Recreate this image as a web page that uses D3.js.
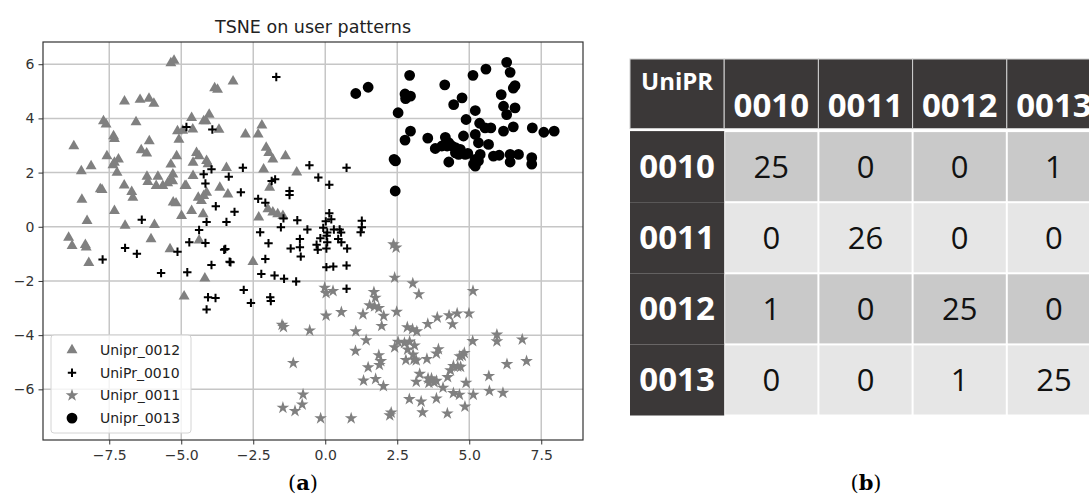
<!DOCTYPE html>
<html>
<head>
<meta charset="utf-8">
<script src="https://cdn.jsdelivr.net/npm/d3@7"></script>
<style>
body { margin: 0; background: #fff; }
</style>
</head>
<body>
<div id="chart"></div>
<script>
// ---- scatter data (t-SNE coordinates) ----
var unipr0012 = [
    [-5.36,6.04],[-5.25,6.13],[-3.84,5.12],[-3.74,5.06],[-3.20,5.37],
    [-6.97,4.63],[-6.43,4.69],[-6.12,4.73],[-5.95,4.55],
    [-7.70,3.90],[-7.61,3.78],[-6.57,3.86],[-7.35,3.35],[-7.32,3.25],[-8.73,2.98],[-6.11,3.16],
    [-6.39,2.83],[-6.20,2.71],[-7.58,2.61],[-7.32,2.37],[-7.18,2.49],[-7.37,2.28],[-7.23,2.00],
    [-8.13,2.24],[-8.47,2.06],[-8.45,1.00],[-8.27,0.22],[-7.81,1.39],[-7.75,1.36],[-7.32,0.59],
    [-6.98,1.53],[-6.72,1.29],[-6.68,1.08],[-6.95,0.04],[-5.93,0.07],
    [-6.19,1.85],[-5.81,1.85],[-6.16,1.66],[-5.87,1.51],[-5.64,1.51],[-5.47,1.61],[-5.35,1.76],[-5.29,1.94],[-4.83,1.51],
    [-5.28,0.90],[-5.18,0.87],[-5.30,1.69],[-5.36,2.30],[-5.16,2.61],
    [-5.13,3.53],[-5.08,3.22],[-4.95,3.55],
    [-4.64,4.02],[-4.03,4.14],[-4.22,3.90],[-3.69,3.59],[-2.77,3.41],[-4.60,3.60],[-4.14,3.90],
    [-2.20,3.74],[-2.33,3.41],
    [-2.05,2.92],[-1.96,2.73],[-1.82,2.49],[-1.38,2.61],[-0.99,2.01],[-2.14,2.12],[-1.93,1.45],
    [-1.99,0.65],[-1.82,0.53],[-1.65,0.47],[-1.47,0.40],[-2.31,0.35],
    [-4.47,2.73],[-4.38,2.61],[-4.59,2.37],[-4.12,2.43],[-4.07,2.31],[-4.59,1.88],[-4.87,1.51],
    [-4.41,1.08],[-4.30,0.96],[-4.22,1.14],[-4.12,1.26],[-3.66,1.45],[-3.38,1.20],[-3.43,2.18],
    [-4.64,0.59],[-4.99,0.40],[-4.24,0.47],
    [-8.91,-0.40],[-8.79,-0.70],[-8.33,-0.67],[-8.30,-0.76],[-8.21,-1.33],
    [-6.05,-0.45],[-5.39,-0.82],[-4.38,-0.50],[-4.18,-1.90],[-4.90,-2.57],[-2.51,-1.29]
];

var unipr0010 = [
    [-1.70,5.53],[-4.82,3.68],[-3.92,3.59],
    [-4.22,1.94],[-4.16,1.60],[-3.95,2.12],
    [-2.86,2.18],[-3.35,1.85],[-2.93,1.27],[-3.15,0.55],[-3.43,0.18],[-3.80,0.76],[-4.12,0.18],
    [-1.86,1.69],[-1.74,1.75],[-1.24,1.32],[-1.24,1.17],
    [-0.55,2.27],[-0.24,1.82],[0.14,1.55],[0.74,2.18],
    [-2.33,1.03],[-2.08,0.89],
    [-1.45,0.31],[-0.97,0.24],[-0.62,-0.10],[-1.54,-0.02],[-2.26,-0.20],
    [0.14,0.50],[0.21,0.28],[0.02,0.20],[-0.07,-0.04],[0.07,-0.21],[0.30,-0.10],[0.50,-0.10],[0.55,-0.21],
    [1.27,0.22],[1.27,-0.02],[1.23,-0.20],
    [-0.88,-0.45],[-0.17,-0.42],[0.07,-0.57],[0.45,-0.45],[0.56,-0.57],[0.04,-0.80],[0.76,-0.80],[-1.20,-0.80],[-0.30,-0.66],[-0.26,-0.85],
    [-1.97,-0.61],[-3.47,-0.82],[-3.29,-1.31],[-2.08,-1.19],
    [-0.88,-0.76],[-0.85,-1.10],
    [0.04,-1.49],[0.28,-1.47],[0.74,-1.43],
    [-2.22,-1.74],[-1.76,-1.80],[-1.43,-1.92],[-1.01,-2.02],
    [-2.83,-2.33],[-2.58,-2.81],[-1.91,-2.60],[-1.89,-2.74],[0.74,-2.29],[0.05,-0.33],
    [-7.73,-1.21],[-6.95,-0.78],[-6.54,-1.00],[-5.70,-1.71],[-5.13,-0.92],[-4.79,-1.68],[-4.72,-0.57],[-4.16,-0.60],[-3.95,-1.41],
    [-4.07,-2.60],[-3.81,-2.63],[-4.12,-3.05],[-3.51,-0.85],[-3.32,-1.29],
    [-6.37,0.26],[-4.38,-0.12]
];

var unipr0011 = [
    [2.37,-0.65],[2.46,-0.77],[2.41,-1.88],[3.04,-2.09],[3.25,-2.49],[5.13,-2.37],
    [-0.02,-2.25],[0.03,-2.45],[0.27,-2.37],
    [1.69,-2.41],[1.74,-2.62],[1.54,-2.90],[1.71,-2.94],[1.86,-3.00],[2.03,-3.29],[1.96,-3.66],
    [1.31,-3.23],[0.56,-3.15],[0.03,-3.28],[2.48,-3.14],
    [-0.54,-3.83],[1.06,-3.86],[1.42,-4.19],[1.05,-4.58],
    [-1.50,-3.62],[-1.45,-3.70],
    [2.85,-3.71],[3.03,-3.78],[3.18,-3.86],
    [3.56,-3.59],[3.89,-3.35],[4.30,-3.27],[4.42,-3.60],[4.58,-3.20],[4.99,-3.20],
    [5.12,-4.22],[5.96,-3.98],[5.96,-4.23],[6.84,-4.16],[6.99,-4.96],[6.31,-5.07],[5.68,-5.51],[5.70,-6.06],[6.17,-6.13],[5.14,-6.20],[4.89,-5.76],[4.85,-6.64],
    [4.45,-6.14],[4.66,-6.20],[4.24,-6.89],[3.86,-6.34],[3.33,-6.45],[3.38,-6.85],[2.92,-6.36],[2.29,-6.86],[2.24,-6.96],
    [0.90,-7.07],[-0.16,-7.07],
    [-0.77,-6.19],[-0.80,-6.56],[-1.05,-6.80],[-1.47,-6.68],[-1.11,-5.03],
    [1.49,-5.19],[1.33,-5.68],[1.75,-5.62],[2.02,-5.88],
    [1.86,-4.74],[1.93,-4.96],[1.88,-5.10],
    [2.41,-4.45],[2.53,-4.25],[2.75,-4.29],[2.93,-4.24],[3.10,-4.38],[2.86,-4.53],[3.05,-4.72],[3.08,-4.90],[2.80,-4.92],[3.16,-4.93],
    [3.53,-4.88],[3.86,-4.68],[3.93,-4.52],
    [3.28,-5.43],[3.16,-5.72],[3.57,-5.60],[3.69,-5.60],[3.86,-5.69],[3.60,-5.76],[3.78,-5.74],[4.09,-5.94],
    [4.25,-5.55],[4.35,-5.30],[4.45,-5.14],[4.60,-5.16],[4.70,-5.17],[4.76,-4.76],[4.83,-4.66],[4.67,-4.78]
];

var unipr0013 = [
    [1.06,4.92],[1.49,5.15],
    [2.93,5.59],[2.77,4.90],[2.96,4.82],[2.79,4.73],[2.53,4.21],[2.96,3.53],[2.77,3.20],[2.39,2.49],[2.44,2.43],[2.43,1.32],
    [4.15,5.24],[4.75,4.76],[4.46,4.51],[5.13,5.59],[5.58,5.82],[6.30,6.07],[6.42,5.70],
    [6.59,5.21],[6.53,5.12],[6.11,4.88],[6.59,4.39],[6.19,4.45],[6.30,4.14],
    [5.21,4.29],[4.89,3.96],[5.36,3.82],[5.55,3.65],[5.75,3.65],[6.19,3.53],[6.53,3.69],[7.19,3.65],[7.59,3.49],[7.95,3.53],
    [3.56,3.27],[4.17,3.30],[4.29,3.10],[3.82,2.89],[4.05,2.98],[4.23,2.98],[4.40,2.98],[4.52,2.92],[4.69,2.86],[4.63,2.67],[4.52,2.73],[4.95,2.71],[4.86,2.67],[4.80,3.35],[5.21,3.41],[5.32,3.10],[5.67,3.04],
    [4.29,2.39],[5.21,2.49],[5.38,2.67],[5.32,2.43],[5.15,2.31],[5.21,2.24],[5.84,2.61],[6.04,2.64],
    [6.42,2.39],[6.42,2.67],[6.71,2.67],[7.17,2.55],[7.17,2.31]
];

var seriesNames = ["Unipr_0012", "UniPr_0010", "Unipr_0011", "Unipr_0013"];
var xTicks = [-7.5, -5.0, -2.5, 0.0, 2.5, 5.0, 7.5];
var yTicks = [-6, -4, -2, 0, 2, 4, 6];

// ---- confusion matrix data ----
var classCodes = ["0010", "0011", "0012", "0013"];
var confusion = [
    [25, 0, 0, 1],
    [0, 26, 0, 0],
    [1, 0, 25, 0],
    [0, 0, 1, 25]
];

var W = 1089, H = 497;
var svg = d3.select("#chart").append("svg")
    .attr("width", W)
    .attr("height", H)
    .style("font-family", "'DejaVu Sans', sans-serif");
svg.append("rect").attr("width", W).attr("height", H).attr("fill", "#fff");

// ================= (a) scatter =================
var plot = {left: 43, right: 583, top: 42, bottom: 440};
var x = d3.scaleLinear().domain([-9.8, 8.95]).range([plot.left, plot.right]);
var y = d3.scaleLinear().domain([-7.87, 6.82]).range([plot.bottom, plot.top]);

var gridColor = "#c6c6c6";
svg.append("g").selectAll("line").data(xTicks).enter().append("line")
    .attr("x1", d => x(d)).attr("x2", d => x(d))
    .attr("y1", plot.top).attr("y2", plot.bottom)
    .attr("stroke", gridColor).attr("stroke-width", 1.5);
svg.append("g").selectAll("line").data(yTicks).enter().append("line")
    .attr("y1", d => y(d)).attr("y2", d => y(d))
    .attr("x1", plot.left).attr("x2", plot.right)
    .attr("stroke", gridColor).attr("stroke-width", 1.5);

var xAxis = svg.append("g")
    .attr("transform", "translate(0," + plot.bottom + ")")
    .call(d3.axisBottom(x).tickValues(xTicks).tickFormat(d3.format(".1f")).tickSize(4.5).tickPadding(6));
var yAxis = svg.append("g")
    .attr("transform", "translate(" + plot.left + ",0)")
    .call(d3.axisLeft(y).tickValues(yTicks).tickFormat(d3.format("d")).tickSize(4.5).tickPadding(4));
[xAxis, yAxis].forEach(function(a) {
    a.select(".domain").remove();
    a.selectAll("line").attr("stroke", "#333");
    a.selectAll("text").attr("font-size", 14).attr("fill", "#333")
        .style("font-family", "'DejaVu Sans', sans-serif");
});

var symTri = d3.symbol().type(d3.symbolTriangle).size(52);
var symStar = d3.symbol().type(d3.symbolStar).size(50);
var symCircle = d3.symbol().type(d3.symbolCircle).size(92);
var plusPath = "M-4.2,0H4.2M0,-4.2V4.2";

var marks = svg.append("g");
marks.selectAll(".tri").data(unipr0012).enter().append("path")
    .attr("class", "tri")
    .attr("d", symTri)
    .attr("transform", d => "translate(" + x(d[0]) + "," + y(d[1]) + ")")
    .attr("fill", "#808080");
marks.selectAll(".plus").data(unipr0010).enter().append("path")
    .attr("class", "plus")
    .attr("d", plusPath)
    .attr("transform", d => "translate(" + x(d[0]) + "," + y(d[1]) + ")")
    .attr("stroke", "#000").attr("stroke-width", 2).attr("fill", "none");
marks.selectAll(".star").data(unipr0011).enter().append("path")
    .attr("class", "star")
    .attr("d", symStar)
    .attr("transform", d => "translate(" + x(d[0]) + "," + y(d[1]) + ")")
    .attr("fill", "#808080");
marks.selectAll(".dot").data(unipr0013).enter().append("path")
    .attr("class", "dot")
    .attr("d", symCircle)
    .attr("transform", d => "translate(" + x(d[0]) + "," + y(d[1]) + ")")
    .attr("fill", "#000");

// frame
svg.append("rect")
    .attr("x", plot.left).attr("y", plot.top)
    .attr("width", plot.right - plot.left).attr("height", plot.bottom - plot.top)
    .attr("fill", "none").attr("stroke", "#333").attr("stroke-width", 1.2);

svg.append("text")
    .attr("x", (plot.left + plot.right) / 2).attr("y", 33)
    .attr("text-anchor", "middle").attr("font-size", 17.5).attr("fill", "#222")
    .text("TSNE on user patterns");

// legend
var leg = svg.append("g").attr("transform", "translate(51,335)");
leg.append("rect").attr("width", 140).attr("height", 98).attr("rx", 3)
    .attr("fill", "#fff").attr("fill-opacity", 0.8).attr("stroke", "#d4d4d4");
var legItems = leg.selectAll(".li").data(seriesNames).enter().append("g")
    .attr("transform", (d, i) => "translate(21," + (15 + i * 22.7) + ")");
legItems.each(function(d, i) {
    var gi = d3.select(this);
    if (i === 0) gi.append("path").attr("d", symTri).attr("fill", "#808080");
    if (i === 1) gi.append("path").attr("d", plusPath).attr("stroke", "#000").attr("stroke-width", 2);
    if (i === 2) gi.append("path").attr("d", symStar).attr("fill", "#808080");
    if (i === 3) gi.append("path").attr("d", symCircle).attr("fill", "#000");
});
legItems.append("text").attr("x", 28).attr("y", 5)
    .attr("font-size", 14).attr("fill", "#222").text(d => d);

// ================= (b) confusion table =================
var tx = d3.scaleBand().domain(["UniPR"].concat(classCodes)).range([630, 1101]);
var ty = d3.scaleBand().domain(["head"].concat(classCodes)).range([59, 414.5]);
var dark = "#3b3838";
var tb = svg.append("g").style("font-family", "'Open Sans', 'Noto Sans', sans-serif");

// header row
tb.selectAll(".hc").data(["UniPR"].concat(classCodes)).enter().append("rect")
    .attr("x", d => tx(d)).attr("y", ty("head"))
    .attr("width", tx.bandwidth()).attr("height", ty.bandwidth() - 1.5)
    .attr("fill", dark).attr("stroke", "#d0d0d0").attr("stroke-width", 1);

// row label column (continuous dark block)
tb.selectAll(".rc").data(classCodes).enter().append("rect")
    .attr("x", tx("UniPR")).attr("y", d => ty(d) + 1)
    .attr("width", tx.bandwidth()).attr("height", ty.bandwidth())
    .attr("fill", dark);

// body cells
var cells = [];
confusion.forEach(function(row, i) {
    row.forEach(function(v, j) {
        cells.push({r: classCodes[i], c: classCodes[j], v: v, i: i});
    });
});
tb.selectAll(".bc").data(cells).enter().append("rect")
    .attr("x", d => tx(d.c) + 1).attr("y", d => ty(d.r) + 2)
    .attr("width", tx.bandwidth() - 2).attr("height", ty.bandwidth() - 2)
    .attr("fill", d => d.i % 2 === 0 ? "#c9c9c9" : "#e6e6e6");

tb.append("text").attr("x", tx("UniPR") + 11).attr("y", 90)
    .attr("font-weight", "bold").attr("font-size", 24)
    .attr("fill", "#fff").text("UniPR");
tb.selectAll(".ht").data(classCodes).enter().append("text")
    .attr("x", d => tx(d) + tx.bandwidth() / 2).attr("y", 117)
    .attr("text-anchor", "middle")
    .attr("font-weight", "bold").attr("font-size", 33)
    .attr("fill", "#fff").text(d => d);
tb.selectAll(".rt").data(classCodes).enter().append("text")
    .attr("x", tx("UniPR") + tx.bandwidth() / 2)
    .attr("y", d => ty(d) + ty.bandwidth() / 2 + 12.5)
    .attr("text-anchor", "middle")
    .attr("font-weight", "bold").attr("font-size", 33)
    .attr("fill", "#fff").text(d => d);
tb.selectAll(".bt").data(cells).enter().append("text")
    .attr("x", d => tx(d.c) + tx.bandwidth() / 2)
    .attr("y", d => ty(d.r) + ty.bandwidth() / 2 + 12)
    .attr("text-anchor", "middle")
    .attr("font-size", 31)
    .attr("fill", "#111").text(d => d.v);

// panel labels
function panelLabel(cx, letter) {
    var t = svg.append("text").attr("x", cx).attr("y", 490)
        .attr("text-anchor", "middle")
        .style("font-family", "'DejaVu Serif', 'Liberation Serif', serif")
        .attr("font-size", 21).attr("fill", "#000");
    t.append("tspan").text("(");
    t.append("tspan").attr("font-weight", "bold").text(letter);
    t.append("tspan").text(")");
}
panelLabel(303, "a");
panelLabel(866, "b");
</script>
</body>
</html>
